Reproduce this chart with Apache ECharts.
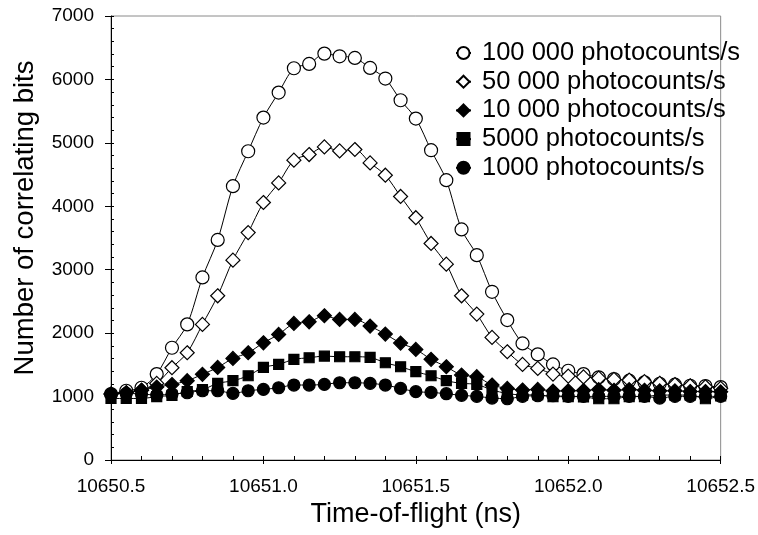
<!DOCTYPE html>
<html>
<head>
<meta charset="utf-8">
<script src="https://cdn.jsdelivr.net/npm/echarts@6/dist/echarts.min.js"></script>
<style>
html,body{margin:0;padding:0;background:#fff;}
#c{width:758px;height:535px;}
</style>
</head>
<body>
<div id="c"></div>
<script>
var timeNs = [10650.50,10650.55,10650.60,10650.65,10650.70,10650.75,10650.80,10650.85,10650.90,10650.95,
  10651.00,10651.05,10651.10,10651.15,10651.20,10651.25,10651.30,10651.35,10651.40,10651.45,
  10651.50,10651.55,10651.60,10651.65,10651.70,10651.75,10651.80,10651.85,10651.90,10651.95,
  10652.00,10652.05,10652.10,10652.15,10652.20,10652.25,10652.30,10652.35,10652.40,10652.45,10652.50];

var rate100k = [1040,1092,1139,1355,1770,2138,2878,3470,4317,4868,
  5399,5793,6176,6244,6407,6365,6339,6181,6014,5672,
  5383,4884,4412,3635,3230,2652,2206,1838,1665,1507,
  1407,1355,1303,1276,1250,1224,1202,1187,1171,1166,1150];

var rate50k = [1040,1060,1100,1208,1455,1691,2138,2589,3151,3585,
  4060,4369,4727,4816,4936,4873,4895,4684,4490,4155,
  3820,3414,3088,2589,2300,1933,1707,1507,1444,1355,
  1323,1310,1290,1270,1260,1235,1210,1190,1170,1155,1130];

var rate10k = [1040,1060,1100,1150,1190,1250,1350,1460,1602,1691,
  1848,1980,2153,2179,2274,2216,2216,2111,1985,1843,
  1744,1587,1470,1339,1313,1182,1129,1103,1113,1087,
  1090,1095,1110,1100,1110,1100,1090,1090,1080,1080,1075];

var rate5k = [970,970,970,1000,1020,1080,1110,1208,1250,1328,
  1460,1507,1587,1612,1638,1628,1628,1617,1533,1470,
  1392,1328,1250,1208,1192,1103,1050,1024,1030,997,
  1000,995,966,966,1000,1000,1024,1024,1024,966,1010];

var rate1k = [1040,1050,1040,1024,1040,1060,1092,1092,1050,1092,
  1113,1139,1182,1182,1192,1218,1218,1208,1182,1129,
  1077,1066,1045,1019,1003,977,966,1003,1013,1013,
  1003,1003,1003,1003,1003,1003,977,1003,1003,1003,1003];

var seriesNames = ['100 000 photocounts/s','50 000 photocounts/s','10 000 photocounts/s','5000 photocounts/s','1000 photocounts/s'];
var xTickLabels = ['10650.5','10651.0','10651.5','10652.0','10652.5'];
var yTickLabels = ['0','1000','2000','3000','4000','5000','6000','7000'];

var FONT = "'Liberation Sans', Arial, sans-serif";

function pairs(vals){
  return timeNs.map(function(t,i){ return [t, vals[i]]; });
}

var styles = [
  {data: rate100k, symbol:'circle', size:13, fill:'#fff'},
  {data: rate50k, symbol:'diamond', size:14, fill:'#fff'},
  {data: rate10k, symbol:'diamond', size:14, fill:'#000'},
  {data: rate5k, symbol:'rect', size:10, fill:'#000'},
  {data: rate1k, symbol:'circle', size:12, fill:'#000'}
];

var series = styles.map(function(s, i){
  return {
    name: seriesNames[i],
    type: 'line',
    xAxisIndex: 0,
    yAxisIndex: 0,
    data: pairs(s.data),
    smooth: 0.3,
    symbol: s.symbol,
    symbolSize: s.size,
    showAllSymbol: true,
    lineStyle: {color:'#000', width:1},
    itemStyle: {color: s.fill, borderColor:'#000', borderWidth:1.2},
    z: 2 + i
  };
});

var chart = echarts.init(document.getElementById('c'));
chart.setOption({
  animation: false,
  backgroundColor: '#fff',
  textStyle: {fontFamily: FONT},
  grid: {left: 111, right: 35, top: 16, bottom: 75, show: true, borderColor: '#8a8a8a', borderWidth: 1, backgroundColor: 'transparent'},
  legend: {
    orient: 'vertical',
    left: 450,
    top: 35,
    itemWidth: 15,
    itemHeight: 15,
    itemGap: 2.7,
    data: seriesNames,
    textStyle: {fontSize: 25.5, lineHeight: 24, color: '#000', fontFamily: FONT, padding: [0,0,0,6]}
  },
  xAxis: [
    {
      type: 'value', min: 10650.5, max: 10652.5, interval: 0.5, position: 'bottom',
      axisLine: {show: true, lineStyle: {color:'#000', width:1}},
      axisTick: {show: true, inside: false, length: 4, lineStyle: {color:'#000'}},
      axisLabel: {
        fontSize: 19, color: '#000', margin: 17, fontFamily: FONT,
        formatter: function(v){ var i = Math.round((v - 10650.5) / 0.5); return xTickLabels[i] || ''; }
      },
      splitLine: {show: false},
      name: 'Time-of-flight (ns)', nameLocation: 'middle', nameGap: 40,
      nameTextStyle: {fontSize: 27, color: '#000', fontFamily: FONT}
    },
    {
      type: 'value', min: 10650.5, max: 10652.5, interval: 0.1, position: 'bottom',
      axisLine: {show: false},
      axisTick: {show: true, inside: true, length: 4, lineStyle: {color:'#000'}},
      axisLabel: {show: false},
      splitLine: {show: false}
    }
  ],
  yAxis: [
    {
      type: 'value', min: 0, max: 7000, interval: 1000, position: 'left',
      axisLine: {show: true, lineStyle: {color:'#000', width:1}},
      axisTick: {show: true, inside: false, length: 6, lineStyle: {color:'#000'}},
      axisLabel: {
        fontSize: 19, color: '#000', margin: 17, fontFamily: FONT,
        formatter: function(v){ return yTickLabels[Math.round(v/1000)] || ''; }
      },
      splitLine: {show: false},
      name: 'Number of correlating bits', nameLocation: 'middle', nameGap: 72,
      nameTextStyle: {fontSize: 27.5, color: '#000', fontFamily: FONT, padding: [0,0,0,40]}
    },
    {
      type: 'value', min: 0, max: 7000, interval: 200, position: 'left',
      axisLine: {show: false},
      axisTick: {show: true, inside: true, length: 3, lineStyle: {color:'#000'}},
      axisLabel: {show: false},
      splitLine: {show: false}
    }
  ],
  series: series
});
</script>
</body>
</html>
